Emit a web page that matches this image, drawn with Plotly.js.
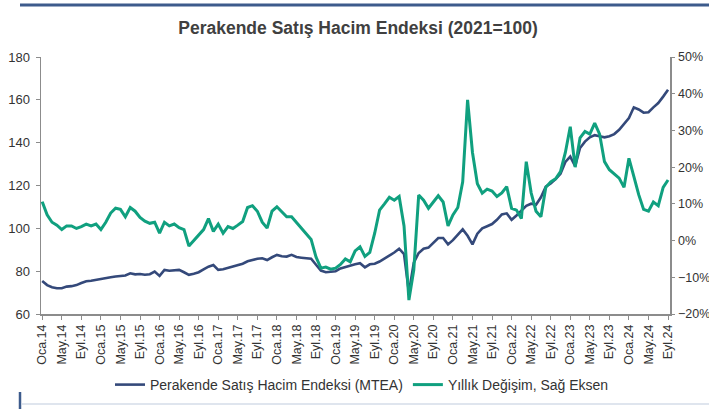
<!DOCTYPE html>
<html>
<head>
<meta charset="utf-8">
<script src="https://cdn.plot.ly/plotly-3.0.1.min.js"></script>
<style>
  html, body { margin: 0; padding: 0; background: #ffffff; }
  #chart { width: 709px; height: 409px; }
</style>
</head>
<body>
<div id="chart"></div>
<script>
// Turkish month abbreviations and years covered (Jan 2014 - Sep 2024)
const monthNames = ['Oca', 'Şub', 'Mar', 'Nis', 'May', 'Haz', 'Tem', 'Ağu', 'Eyl', 'Eki', 'Kas', 'Ara'];
const years = ['14', '15', '16', '17', '18', '19', '20', '21', '22', '23', '24'];

// Perakende Satış Hacim Endeksi (MTEA), 2021=100 — left axis
const mtea = [
  75.4, 73.5, 72.5, 72.0, 72.0, 72.8, 73.0, 73.5, 74.5, 75.3, 75.5, 76.0,
  76.3, 77.0, 77.2, 77.5, 77.8, 78.0, 79.0, 78.5, 78.7, 78.3, 78.6, 79.8,
  77.8, 80.6, 80.2, 80.4, 80.6, 79.5, 78.3, 78.8, 79.5, 80.8, 82.1, 82.9,
  80.6, 80.9, 81.5, 82.0, 82.8, 83.5, 84.6, 85.3, 85.8, 86.0, 85.2, 86.5,
  87.6, 87.0, 86.8, 87.6, 86.6, 86.3, 86.0, 85.8, 83.0, 80.3, 79.5, 79.8,
  80.0, 81.3, 82.0, 82.6, 83.2, 83.7, 81.8, 83.2, 83.5, 84.5, 85.8, 87.2,
  88.7, 90.5, 88.0, 70.0, 84.0, 88.5, 90.5, 91.0, 93.5, 95.5, 95.5, 92.5,
  94.5, 97.0, 99.5, 96.5, 92.5, 97.5, 100.0, 101.0, 102.0, 104.0, 106.5, 107.0,
  104.0, 106.0, 108.5, 110.5, 111.5, 111.0, 114.5, 119.5, 121.0, 123.0, 125.5, 131.0,
  133.5, 129.0, 137.5, 140.5, 142.5, 143.5, 143.0, 142.5, 143.0, 144.0, 146.0, 148.5,
  151.5, 156.5, 155.5, 154.0, 154.2, 156.5, 158.5, 161.5, 164.7
];

// Yıllık Değişim (%), right axis
const yoy = [
  10.6, 7.0, 5.0, 4.2, 3.0, 4.0, 4.0, 3.3, 3.8, 4.5, 4.0, 4.5,
  3.0, 5.0, 7.5, 8.8, 8.5, 6.5, 9.0, 8.0, 6.3, 5.3, 4.7, 5.0,
  2.0, 5.0, 4.0, 4.5, 3.5, 3.0, -1.5, 0.0, 1.5, 3.0, 6.0, 2.5,
  4.5, 2.0, 3.8, 3.3, 4.2, 5.2, 9.0, 9.5, 8.0, 5.0, 3.4, 8.0,
  9.2, 7.9, 6.5, 6.5, 5.0, 3.3, 2.0, 0.3, -4.5, -7.5, -7.2, -7.8,
  -7.5, -6.5, -5.0, -5.8, -2.8, -1.7, -4.3, -3.2, 2.0, 8.3, 10.0, 11.8,
  11.0, 12.0, 4.0, -16.2, -8.0, 12.4, 11.0, 8.8, 10.5, 12.2, 10.5, 4.0,
  7.0, 9.0, 16.0, 38.3, 24.0, 15.5, 12.9, 14.0, 13.5, 12.0, 13.0, 14.7,
  8.8, 8.3, 6.0, 21.5, 13.0, 8.0, 6.5, 14.5, 16.0, 16.8, 18.8, 24.0,
  31.0, 20.0, 28.0, 29.7, 29.0, 32.0, 29.0, 21.5, 19.3, 18.2, 17.0, 14.5,
  22.4, 17.5, 12.5, 8.5, 8.0, 10.5, 9.5, 14.5, 16.5
];

// Category labels for each month
const months = [];
years.forEach(y => monthNames.forEach(m => months.push(m + '.' + y)));
months.length = mtea.length;

// Tick labels every 4 months (Oca / May / Eyl)
const tickLabels = months.filter((_, i) => i % 4 === 0);

const FONT = 'Arial, "Liberation Sans", sans-serif';
const navy = '#34497a';
const green = '#10a07f';

const traces = [
  {
    x: months, y: mtea, type: 'scatter', mode: 'lines',
    name: 'Perakende Satış Hacim Endeksi (MTEA)',
    line: { color: navy, width: 2.6 },
    yaxis: 'y'
  },
  {
    x: months, y: yoy, type: 'scatter', mode: 'lines',
    name: 'Yıllık Değişim, Sağ Eksen',
    line: { color: green, width: 3 },
    yaxis: 'y2'
  }
];

const layout = {
  width: 709, height: 409,
  paper_bgcolor: '#ffffff', plot_bgcolor: '#ffffff',
  margin: { l: 41, r: 39, t: 57, b: 95, pad: 0 },
  font: { family: FONT, size: 13, color: '#333333' },
  showlegend: true,
  title: {
    text: '<b>Perakende Satış Hacim Endeksi (2021=100)</b>',
    font: { family: FONT, size: 17.5, color: '#404040' },
    x: 358 / 709, xref: 'container', xanchor: 'center',
    y: 1 - 28 / 409, yref: 'container', yanchor: 'middle'
  },
  xaxis: {
    type: 'category',
    range: [-0.25, months.length - 0.6],
    tickmode: 'array', tickvals: tickLabels, ticktext: tickLabels,
    tickangle: -90,
    tickfont: { family: FONT, size: 12.5, color: '#333333' },
    showgrid: false, zeroline: false,
    showline: true, linecolor: '#8c8c8c', linewidth: 1.5,
    ticks: 'outside', ticklen: 4, tickcolor: '#8c8c8c', tickwidth: 1,
    fixedrange: true
  },
  yaxis: {
    range: [60, 180], dtick: 20, tick0: 60,
    showgrid: false, zeroline: false,
    showline: true, linecolor: '#8c8c8c', linewidth: 1.5,
    ticks: 'outside', ticklen: 4, tickcolor: '#8c8c8c',
    tickfont: { family: FONT, size: 13, color: '#333333' },
    ticklabelstandoff: 3
  },
  yaxis2: {
    overlaying: 'y', side: 'right',
    range: [-20, 50], dtick: 10, tick0: -20,
    ticksuffix: '%',
    showgrid: false, zeroline: false,
    showline: true, linecolor: '#8c8c8c', linewidth: 1.5,
    ticks: 'outside', ticklen: 3, tickcolor: '#8c8c8c',
    tickfont: { family: FONT, size: 12.5, color: '#333333' },
    ticklabelstandoff: 1
  },
  legend: {
    orientation: 'h',
    x: 362 / 709, xref: 'container', xanchor: 'center',
    y: 1 - 385 / 409, yref: 'container', yanchor: 'middle',
    font: { family: FONT, size: 14, color: '#333333' },
    bgcolor: 'rgba(0,0,0,0)',
    itemwidth: 30
  },
  shapes: [
    { type: 'line', xref: 'paper', yref: 'paper',
      x0: (20 - 41) / 629, x1: (709 - 41) / 629,
      y0: (314 - 5) / 257, y1: (314 - 5) / 257,
      line: { color: '#3d5b8c', width: 3 } },
    { type: 'line', xref: 'paper', yref: 'paper',
      x0: (20 - 41) / 629, x1: (20 - 41) / 629,
      y0: (314 - 392) / 257, y1: (314 - 409) / 257,
      line: { color: '#3d5b8c', width: 2.5 } },
    { type: 'line', xref: 'paper', yref: 'paper',
      x0: (22 - 41) / 629, x1: (709 - 41) / 629,
      y0: (314 - 404) / 257, y1: (314 - 404) / 257,
      line: { color: '#d5dde8', width: 1.5 } }
  ]
};

Plotly.newPlot('chart', traces, layout, { displayModeBar: false, staticPlot: true });
</script>
</body>
</html>
